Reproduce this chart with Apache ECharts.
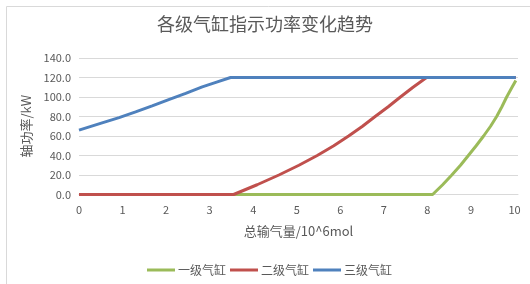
<!DOCTYPE html>
<html><head><meta charset="utf-8">
<script src="https://cdn.jsdelivr.net/npm/echarts@6/dist/echarts.min.js"></script>
<style>html,body{margin:0;padding:0;background:#fff}#c{width:530px;height:284px}</style>
</head><body><div id="c"></div>
<script>
var titleText = '各级气缸指示功率变化趋势';
var xName = '总输气量/10^6mol';
var yName = '轴功率/kW';
var seriesNames = ['一级气缸', '二级气缸', '三级气缸'];
var seriesColors = ['#9BBB59', '#C0504D', '#4F81BD'];

var greenX = [0, 8.12, 8.35, 8.56, 8.76, 8.94, 9.12, 9.29, 9.45, 9.59, 9.71, 9.82, 9.93, 10.03];
var greenY = [0, 0, 10, 20, 30, 40, 50, 60, 70, 80, 90, 100, 109, 117];
var redX = [0, 3.55, 4.09, 4.59, 5.05, 5.47, 5.85, 6.19, 6.51, 6.80, 7.10, 7.38, 7.67, 7.98, 10.03];
var redY = [0, 0, 10, 20, 30, 40, 50, 60, 70, 80, 90, 100, 110, 120, 120];
var blueX = [0, 0.53, 0.92, 1.30, 1.68, 2.06, 2.45, 2.83, 3.16, 3.48, 10.03];
var blueY = [66, 73.4, 78.8, 84.7, 90.9, 97.4, 103.8, 110.4, 115.3, 120, 120];

function pairs(xs, ys){ return xs.map(function(x,i){ return [x, ys[i]]; }); }
var seriesData = [pairs(greenX, greenY), pairs(redX, redY), pairs(blueX, blueY)];

var font = '"Noto Sans CJK SC", "Noto Sans", sans-serif';
var chart = echarts.init(document.getElementById('c'), null, {renderer:'canvas'});
chart.setOption({
  animation: false,
  textStyle: {fontFamily: font},
  graphic: [{type:'rect', shape:{x:6.5, y:6.5, width:540, height:300}, style:{fill:'none', stroke:'#d9d9d9', lineWidth:1}}],
  title: {text: titleText, left: 'center', top: 15, padding: 0,
    textStyle: {fontSize: 18, fontWeight: 'normal', color: '#595959', fontFamily: font}},
  legend: {data: seriesNames, bottom: 8, left: 147, padding: 0, icon: 'rect', itemWidth: 28, itemHeight: 3, itemGap: 4,
    textStyle: {fontSize: 12, color: '#595959', padding:[0,0,0,-2]}},
  grid: {left: 79, top: 58, width: 439, height: 136.5, containLabel: false},
  xAxis: {type: 'value', min: 0, max: 10.08, interval: 1,
    name: xName, nameLocation: 'middle', nameGap: 30,
    nameTextStyle: {fontSize: 13, color: '#595959'},
    axisLine: {lineStyle: {color: '#d9d9d9'}}, axisTick: {show: false}, splitLine: {show: false},
    axisLabel: {fontSize: 11, color: '#595959', margin: 10, showMaxLabel: false,
      formatter: function(v){ return Math.abs(v - Math.round(v)) < 1e-6 ? String(Math.round(v)) : ''; }}},
  yAxis: {type: 'value', min: 0, max: 140, interval: 20,
    name: yName, nameLocation: 'middle', nameGap: 42,
    nameTextStyle: {fontSize: 13, color: '#595959'},
    axisLine: {show: false}, axisTick: {show: false},
    splitLine: {lineStyle: {color: '#d9d9d9'}},
    axisLabel: {fontSize: 11, color: '#595959', margin: 8, formatter: function(v){ return v.toFixed(1); }}},
  series: seriesNames.map(function(n, i){
    return {name: n, type: 'line', data: seriesData[i], showSymbol: false, symbol: 'none',
      smooth: false, color: seriesColors[i],
      lineStyle: {width: 3, color: seriesColors[i]}};
  })
});
</script></body></html>
